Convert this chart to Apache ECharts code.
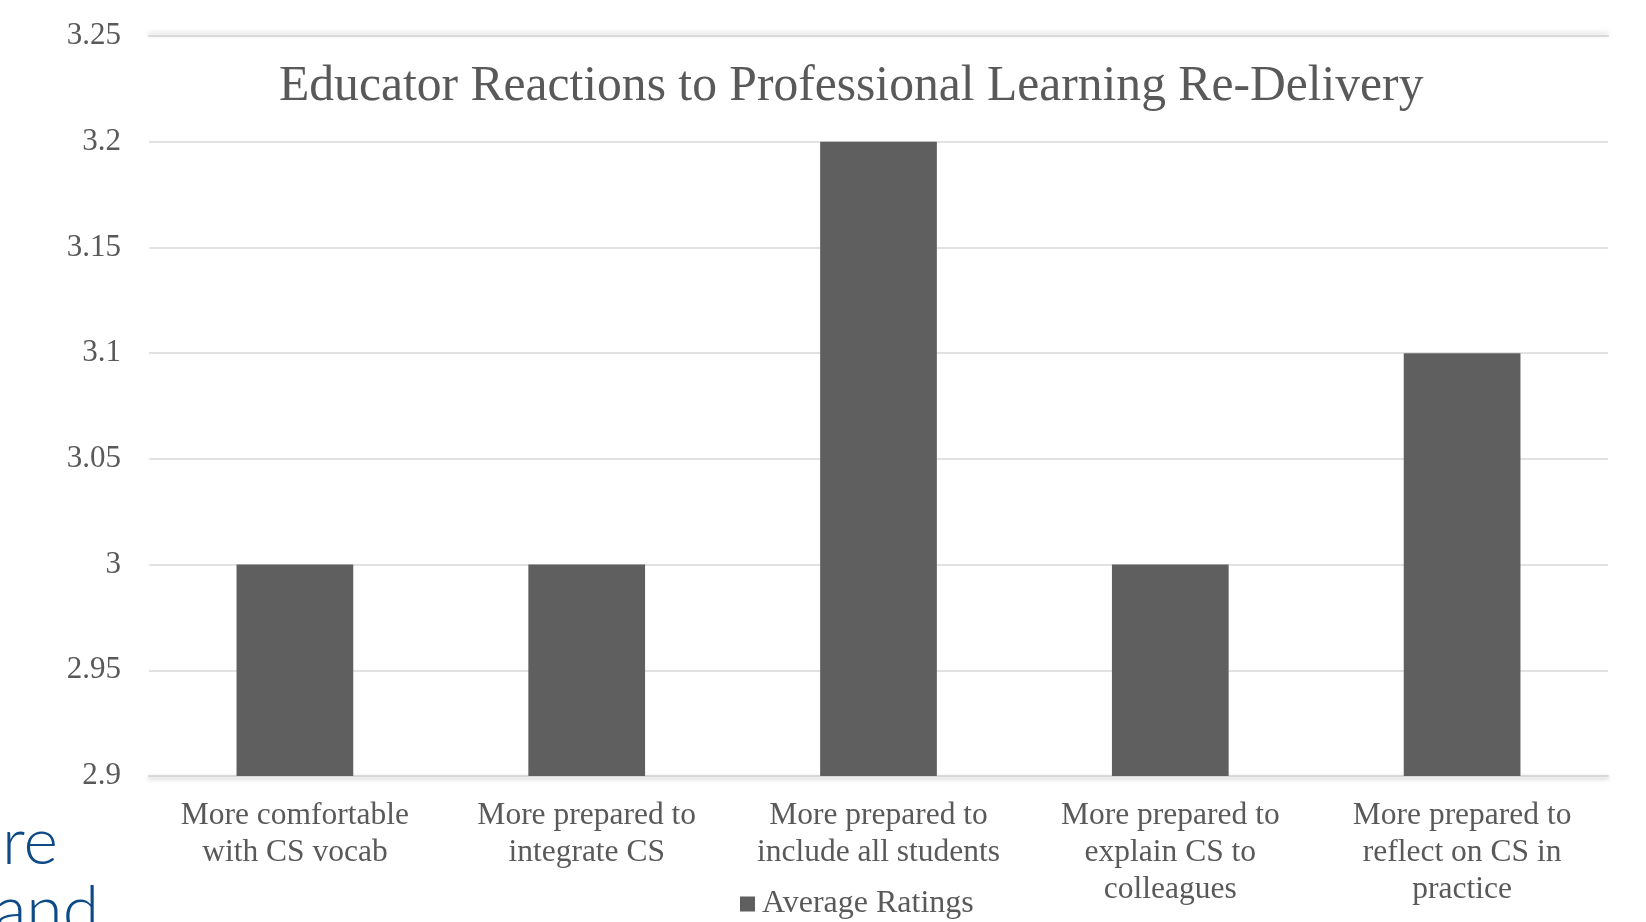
<!DOCTYPE html>
<html>
<head>
<meta charset="utf-8">
<style>
  html, body { margin: 0; padding: 0; background: #fff; }
  #main { width: 1646px; height: 922px; }
</style>
<script src="https://cdn.jsdelivr.net/npm/echarts@6/dist/echarts.min.js"></script>
</head>
<body>
<div id="main"></div>
<script>
const chartTitle = 'Educator Reactions to Professional Learning Re-Delivery';
const seriesName = 'Average Ratings';
// line breaks follow the reference wrapping
const categories = [
	'More comfortable\nwith CS vocab',
	'More prepared to\nintegrate CS',
	'More prepared to\ninclude all students',
	'More prepared to\nexplain CS to\ncolleagues',
	'More prepared to\nreflect on CS in\npractice',
];
const ratings = [3.0, 3.0, 3.2, 3.0, 3.1];
const yMin = 2.9, yMax = 3.25, yStep = 0.05;

const textColor = '#595959';
const serif = '"Liberation Serif", "Times New Roman", serif';

const chart = echarts.init(document.getElementById('main'));
chart.setOption({
	animation: false,
	backgroundColor: '#fff',
	title: {
		text: chartTitle,
		left: 279,
		top: 62,
		padding: 0,
		textStyle: { fontFamily: serif, fontSize: 49.6, fontWeight: 'normal', color: textColor, lineHeight: 50 },
	},
	legend: {
		data: [seriesName],
		left: 740,
		top: 888,
		padding: 0,
		itemWidth: 15,
		itemHeight: 15,
		itemGap: 0,
		icon: 'rect',
		textStyle: { fontFamily: serif, fontSize: 32, color: textColor, lineHeight: 32, padding: [0, 0, 0, 2] },
	},
	grid: { left: 149, right: 38, top: 36, bottom: 146 },
	xAxis: [{
		type: 'category',
		data: categories,
		axisTick: { show: false },
		axisLine: {
			lineStyle: { color: '#d9d9d9', width: 2, shadowColor: 'rgba(0,0,0,0.25)', shadowBlur: 4, shadowOffsetY: 2 },
		},
		axisLabel: {
			interval: 0,
			margin: 21,
			fontFamily: serif,
			fontSize: 31.5,
			lineHeight: 37,
			color: textColor,
		},
	}, {
		// top border line with its soft shadow
		type: 'category',
		position: 'top',
		data: categories,
		axisTick: { show: false },
		axisLabel: { show: false },
		axisLine: {
			lineStyle: { color: '#d9d9d9', width: 2, shadowColor: 'rgba(0,0,0,0.2)', shadowBlur: 5, shadowOffsetY: -2 },
		},
	}],
	yAxis: {
		type: 'value',
		min: yMin,
		max: yMax,
		interval: yStep,
		axisLine: { show: false },
		axisTick: { show: false },
		axisLabel: { margin: 28, fontFamily: serif, fontSize: 31, color: textColor },
		splitLine: { lineStyle: { color: '#d9d9d9', width: 1.5 } },
	},
	series: [{
		name: seriesName,
		type: 'bar',
		data: ratings,
		barWidth: '40%',
		itemStyle: { color: '#5f5f5f' },
	}],
	graphic: [
		{
			type: 'text', left: 2, top: 810,
			style: { text: 're', fontFamily: 'Lato, "Open Sans", sans-serif', fontWeight: 300, fontSize: 66, fill: '#0e4a86' },
		},
		{
			type: 'text', right: 1547, top: 878,
			style: { text: 'and', fontFamily: 'Lato, "Open Sans", sans-serif', fontWeight: 300, fontSize: 66, fill: '#0e4a86' },
		},
	],
});
</script>
</body>
</html>
